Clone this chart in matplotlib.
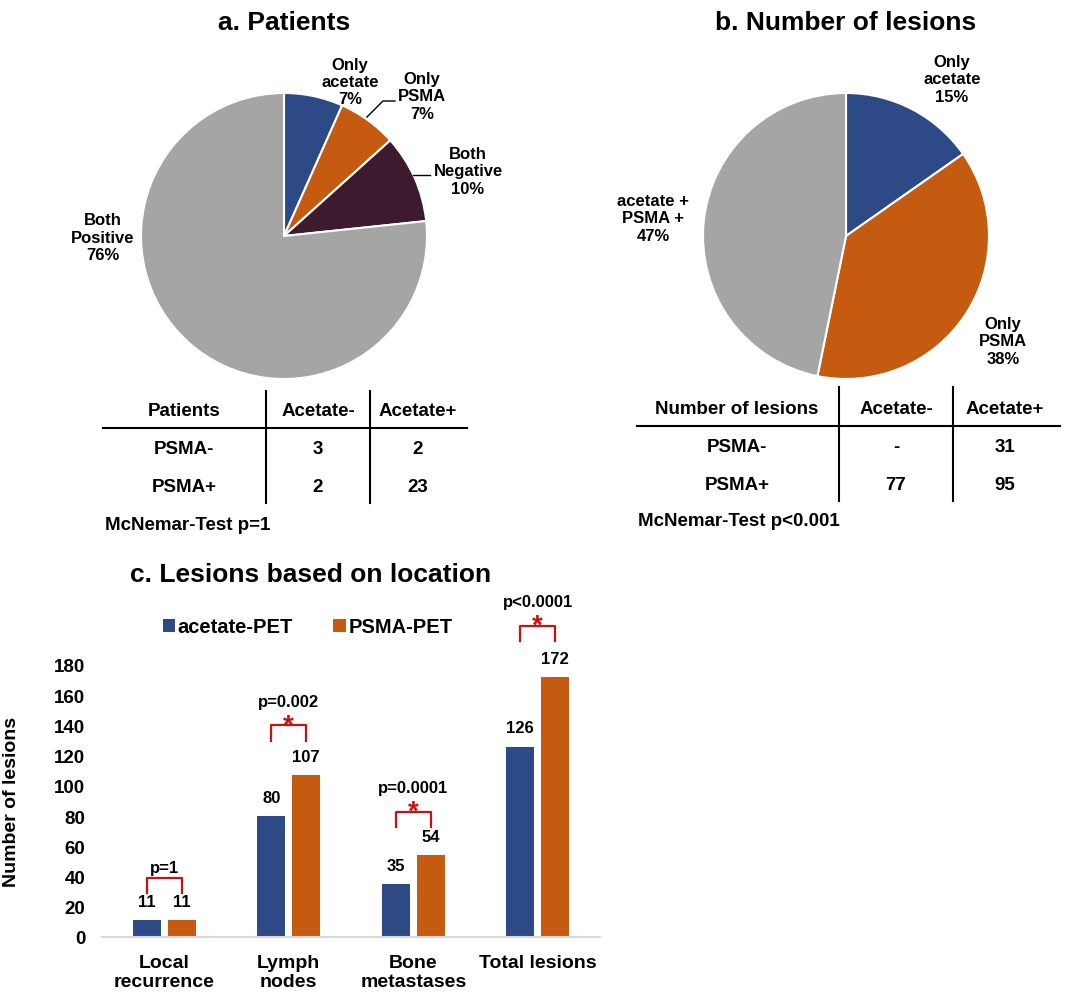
import numpy as np
import matplotlib
matplotlib.use("Agg")
import matplotlib.pyplot as plt

plt.rcParams["font.family"] = ["Liberation Sans", "DejaVu Sans"]
plt.rcParams["font.weight"] = "bold"
plt.rcParams["axes.labelweight"] = "bold"

# --- data -------------------------------------------------------------
patient_counts = [2, 2, 3, 23]
patient_labels = ["Only\nacetate\n7%", "Only\nPSMA\n7%", "Both\nNegative\n10%", "Both\nPositive\n76%"]

lesion_counts = [31, 77, 95]
lesion_labels = ["Only\nacetate\n15%", "Only\nPSMA\n38%", "acetate +\nPSMA +\n47%"]

table_a_header = ["Patients", "Acetate-", "Acetate+"]
table_a_rows = [["PSMA-", "3", "2"], ["PSMA+", "2", "23"]]
table_a_test = "McNemar-Test p=1"

table_b_header = ["Number of lesions", "Acetate-", "Acetate+"]
table_b_rows = [["PSMA-", "-", "31"], ["PSMA+", "77", "95"]]
table_b_test = "McNemar-Test p<0.001"

categories = ["Local\nrecurrence", "Lymph\nnodes", "Bone\nmetastases", "Total lesions"]
acetate_pet = [11, 80, 35, 126]
psma_pet = [11, 107, 54, 172]
p_texts = ["p=1", "p=0.002", "p=0.0001", "p<0.0001"]
significant = [False, True, True, True]

# --- style ------------------------------------------------------------
BLUE = "#2E4A86"
ORANGE = "#C55A11"
PURPLE = "#3E1A2F"
GRAY = "#A5A5A5"
RED = "#CC1010"

W, H = 1072, 995
fig = plt.figure(figsize=(W / 100, H / 100), dpi=100)


def px_axes(cx, cy, r):
    return fig.add_axes([(cx - r) / W, 1 - (cy + r) / H, 2 * r / W, 2 * r / H])


# overlay in pixel coordinates for tables and titles
ov = fig.add_axes([0, 0, 1, 1], zorder=-1)
ov.set_xlim(0, W)
ov.set_ylim(H, 0)
ov.axis("off")

ov.text(284, 23, "a. Patients", ha="center", va="center", fontsize=19)
ov.text(846, 23, "b. Number of lesions", ha="center", va="center", fontsize=19)
ov.text(311, 575, "c. Lesions based on location", ha="center", va="center", fontsize=19)

# --- pie a -----------------------------------------------------------
R = 143
ax_a = px_axes(284, 237, R)
ax_a.pie(patient_counts, colors=[BLUE, ORANGE, PURPLE, GRAY], startangle=90,
         counterclock=False, radius=1,
         wedgeprops=dict(edgecolor="white", linewidth=1.5))
ax_a.set_xlim(-1, 1)
ax_a.set_ylim(-1, 1)
pos_a = [(0.46, 1.08), (0.965, 0.98), (1.287, 0.455), (-1.266, -0.007)]
for lab, (x, y) in zip(patient_labels, pos_a):
    ax_a.text(x, y, lab, ha="center", va="center", fontsize=12, clip_on=False)
ax_a.plot([0.58, 0.692, 0.776], [0.832, 0.944, 0.944], color="black", lw=1, clip_on=False)
ax_a.plot([0.902, 1.021], [0.427, 0.427], color="black", lw=1, clip_on=False)

# --- pie b -----------------------------------------------------------
ax_b = px_axes(846, 237, R)
ax_b.pie(lesion_counts, colors=[BLUE, ORANGE, GRAY], startangle=90,
         counterclock=False, radius=1,
         wedgeprops=dict(edgecolor="white", linewidth=1.5))
ax_b.set_xlim(-1, 1)
ax_b.set_ylim(-1, 1)
pos_b = [(0.741, 1.098), (1.098, -0.734), (-1.35, 0.126)]
for lab, (x, y) in zip(lesion_labels, pos_b):
    ax_b.text(x, y, lab, ha="center", va="center", fontsize=12, clip_on=False)


# --- tables ------------------------------------------------------------
def draw_table(header, rows, test, col_x, vlines, hline, y_head, y_rows, v_top, v_bot, test_xy):
    for txt, x in zip(header, col_x):
        ov.text(x, y_head, txt, ha="center", va="center", fontsize=13.5)
    for row, y in zip(rows, y_rows):
        for txt, x in zip(row, col_x):
            ov.text(x, y, txt, ha="center", va="center", fontsize=13.5)
    for x in vlines:
        ov.plot([x, x], [v_top, v_bot], color="black", lw=1.5)
    ov.plot(hline[:2], [hline[2], hline[2]], color="black", lw=1.5)
    ov.text(test_xy[0], test_xy[1], test, ha="left", va="center", fontsize=13.5)


draw_table(table_a_header, table_a_rows, table_a_test, [184, 318, 418], [266, 370],
           (103, 467, 429), 412, [450, 487], 392, 504, (105, 526))
draw_table(table_b_header, table_b_rows, table_b_test, [737, 896, 1005], [839, 953],
           (637, 1060, 427), 409, [447, 485], 388, 502, (638, 522))

# --- bar chart -----------------------------------------------------------
ax_c = fig.add_axes([102 / W, 1 - 938 / H, 498 / W, 272 / H])
x = np.arange(len(categories))
bw = 0.225
off = 0.14
ax_c.bar(x - off, acetate_pet, bw, color=BLUE, label="acetate-PET")
ax_c.bar(x + off, psma_pet, bw, color=ORANGE, label="PSMA-PET")
ax_c.set_xlim(-0.5, 3.5)
ax_c.set_ylim(0, 180)
ax_c.set_yticks(np.arange(0, 181, 20))
ax_c.set_xticks(x)
ax_c.set_xticklabels(categories, fontsize=14)
ax_c.tick_params(axis="x", length=0, pad=12)
ax_c.tick_params(axis="y", length=0, pad=12, labelsize=13.5)
for s in ["top", "right", "left"]:
    ax_c.spines[s].set_visible(False)
ax_c.spines["bottom"].set_color("#D9D9D9")
ax_c.spines["bottom"].set_linewidth(1.5)
ax_c.set_ylabel("Number of lesions", fontsize=14, fontweight="bold")
ax_c.yaxis.set_label_coords(-0.165, 0.5)

for xi, a, p in zip(x, acetate_pet, psma_pet):
    ax_c.text(xi - off, a + 12.5, str(a), ha="center", va="center", fontsize=12, clip_on=False)
    ax_c.text(xi + off, p + 12.5, str(p), ha="center", va="center", fontsize=12, clip_on=False)

bracket_y = [39, 140, 83, 206]
for xi, top, ptxt, sig in zip(x, bracket_y, p_texts, significant):
    ax_c.plot([xi - off, xi - off, xi + off, xi + off], [top - 10, top, top, top - 10],
              color=RED, lw=1.6, clip_on=False)
    if sig:
        ax_c.annotate("*", xy=(xi, top), xytext=(0, -5), textcoords="offset points",
                      ha="center", va="baseline", fontsize=20, color=RED,
                      annotation_clip=False)
        ax_c.text(xi, top + 16, ptxt, ha="center", va="center", fontsize=12, clip_on=False)
    else:
        ax_c.text(xi, top + 7, ptxt, ha="center", va="center", fontsize=12, clip_on=False)

ax_c.legend(ncol=2, frameon=False, loc="center", bbox_to_anchor=(0.413, 1.14),
            fontsize=14.5, handlelength=0.6, handleheight=0.6, handletextpad=0.15,
            columnspacing=2.0, borderaxespad=0)

fig.savefig("out.png", dpi=100)
